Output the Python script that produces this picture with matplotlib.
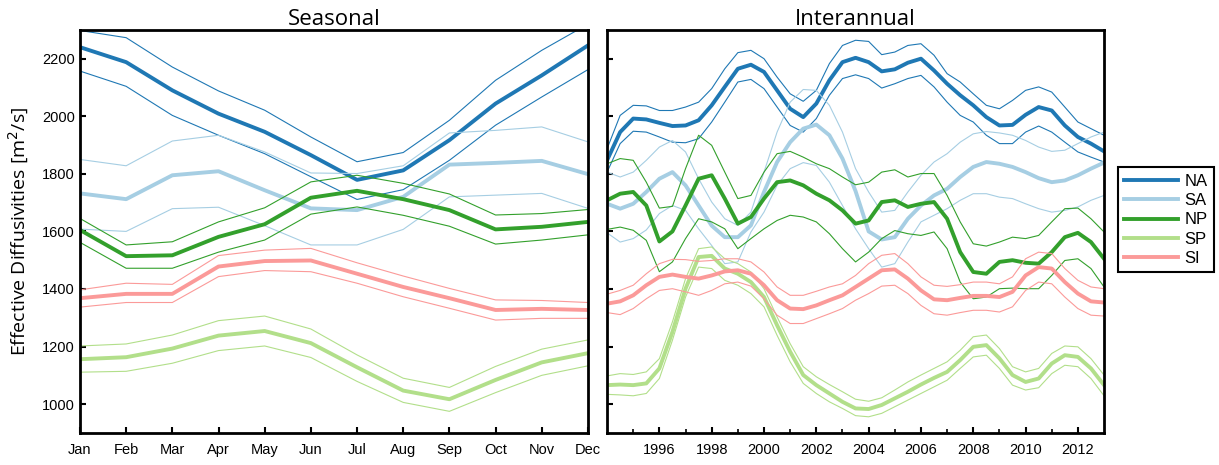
import numpy as np
import matplotlib
matplotlib.use("Agg")
import matplotlib.pyplot as plt

# ---- seasonal cycle (monthly climatology) ----
months = ["Jan", "Feb", "Mar", "Apr", "May", "Jun", "Jul", "Aug", "Sep", "Oct", "Nov", "Dec"]

na_mon = [2240, 2188, 2090, 2009, 1946, 1865, 1779, 1812, 1917, 2044, 2142, 2246]
na_mon_hi = [2298, 2273, 2171, 2088, 2021, 1928, 1842, 1874, 1986, 2125, 2229, 2320]
na_mon_lo = [2157, 2104, 2003, 1934, 1870, 1790, 1711, 1745, 1847, 1969, 2067, 2162]

sa_mon = [1732, 1712, 1795, 1809, 1743, 1680, 1674, 1720, 1832, 1838, 1845, 1799]
sa_mon_hi = [1850, 1828, 1914, 1934, 1876, 1803, 1801, 1828, 1942, 1951, 1963, 1911]
sa_mon_lo = [1608, 1600, 1679, 1684, 1620, 1553, 1553, 1607, 1720, 1726, 1732, 1680]

np_mon = [1605, 1514, 1517, 1581, 1625, 1717, 1741, 1712, 1674, 1607, 1616, 1633]
np_mon_hi = [1645, 1553, 1564, 1633, 1682, 1772, 1795, 1767, 1730, 1657, 1662, 1676]
np_mon_lo = [1562, 1472, 1472, 1528, 1570, 1660, 1685, 1656, 1618, 1556, 1570, 1588]

sp_mon = [1156, 1163, 1193, 1238, 1254, 1212, 1128, 1047, 1017, 1084, 1145, 1177]
sp_mon_hi = [1202, 1209, 1240, 1290, 1306, 1261, 1171, 1090, 1058, 1131, 1191, 1223]
sp_mon_lo = [1111, 1114, 1142, 1186, 1202, 1162, 1079, 1006, 975, 1040, 1100, 1133]

si_mon = [1368, 1383, 1383, 1478, 1497, 1499, 1453, 1407, 1368, 1327, 1331, 1327]
si_mon_hi = [1397, 1420, 1416, 1516, 1535, 1541, 1491, 1445, 1402, 1362, 1360, 1353]
si_mon_lo = [1337, 1353, 1353, 1443, 1464, 1460, 1420, 1373, 1333, 1292, 1298, 1298]

# ---- interannual (half-yearly, 1994.0 - 2013.0) ----
years = np.arange(1994.0, 2013.01, 0.5)

na_yr = [1847, 1945, 1992, 1989, 1977, 1966, 1968, 1986, 2038, 2102, 2165, 2179, 2154,
         2090, 2026, 1997, 2044, 2125, 2188, 2203, 2188, 2156, 2163, 2186, 2200, 2159,
         2113, 2073, 2038, 1997, 1968, 1970, 2005, 2032, 2020, 1968, 1928, 1905, 1878]
na_yr_hi = [1887, 2003, 2038, 2036, 2020, 2020, 2032, 2049, 2096, 2165, 2221, 2229, 2200,
            2136, 2078, 2052, 2090, 2183, 2246, 2264, 2260, 2214, 2223, 2246, 2252, 2212,
            2148, 2119, 2078, 2038, 2026, 2055, 2090, 2102, 2084, 2032, 1980, 1957, 1934]
na_yr_lo = [1806, 1905, 1948, 1945, 1928, 1910, 1908, 1922, 1980, 2049, 2119, 2128, 2096,
            2032, 1968, 1945, 1992, 2073, 2131, 2144, 2131, 2098, 2113, 2131, 2142, 2102,
            2049, 2003, 1980, 1934, 1905, 1905, 1945, 1966, 1945, 1910, 1876, 1858, 1841]

sa_yr = [1696, 1679, 1696, 1737, 1783, 1806, 1760, 1690, 1620, 1580, 1580, 1621, 1737,
         1841, 1910, 1957, 1971, 1934, 1853, 1740, 1600, 1572, 1580, 1644, 1690, 1725,
         1748, 1789, 1824, 1841, 1835, 1824, 1806, 1785, 1771, 1777, 1795, 1818, 1839]
sa_yr_hi = [1806, 1789, 1806, 1847, 1893, 1916, 1876, 1783, 1702, 1644, 1621, 1667, 1806,
            1945, 2049, 2093, 2090, 2038, 1945, 1818, 1737, 1667, 1673, 1737, 1795, 1841,
            1870, 1910, 1939, 1947, 1942, 1934, 1916, 1893, 1878, 1882, 1905, 1928, 1945]
sa_yr_lo = [1595, 1563, 1575, 1605, 1662, 1690, 1673, 1609, 1551, 1488, 1494, 1598, 1667,
            1760, 1818, 1839, 1829, 1771, 1690, 1609, 1540, 1476, 1488, 1563, 1633, 1656,
            1679, 1708, 1731, 1731, 1719, 1714, 1696, 1679, 1667, 1673, 1685, 1708, 1725]

np_yr = [1708, 1731, 1737, 1690, 1565, 1600, 1690, 1783, 1795, 1714, 1627, 1650, 1714,
         1771, 1777, 1760, 1731, 1708, 1673, 1627, 1638, 1702, 1708, 1685, 1696, 1702,
         1644, 1528, 1459, 1453, 1494, 1500, 1491, 1488, 1528, 1580, 1595, 1563, 1505]
np_yr_hi = [1835, 1853, 1847, 1771, 1681, 1687, 1818, 1934, 1899, 1806, 1714, 1725, 1806,
            1870, 1878, 1858, 1835, 1818, 1789, 1762, 1771, 1806, 1814, 1789, 1801, 1801,
            1725, 1633, 1557, 1549, 1563, 1580, 1575, 1586, 1633, 1679, 1681, 1644, 1598]
np_yr_lo = [1607, 1615, 1604, 1569, 1460, 1494, 1575, 1644, 1633, 1609, 1540, 1575, 1609,
            1638, 1656, 1650, 1633, 1592, 1540, 1494, 1528, 1575, 1603, 1592, 1586, 1598,
            1540, 1424, 1366, 1372, 1401, 1403, 1401, 1401, 1447, 1499, 1505, 1471, 1407]

sp_yr = [1066, 1068, 1066, 1072, 1124, 1251, 1401, 1511, 1515, 1471, 1453, 1424, 1372,
         1274, 1182, 1101, 1066, 1037, 1008, 985, 983, 997, 1020, 1043, 1068, 1091,
         1112, 1153, 1199, 1205, 1159, 1101, 1077, 1089, 1141, 1170, 1164, 1124, 1066]
sp_yr_hi = [1098, 1106, 1103, 1112, 1158, 1286, 1436, 1540, 1546, 1505, 1488, 1459, 1401,
            1303, 1210, 1130, 1095, 1068, 1043, 1017, 1010, 1022, 1049, 1077, 1101, 1124,
            1147, 1187, 1234, 1240, 1193, 1130, 1112, 1124, 1176, 1202, 1199, 1158, 1101]
sp_yr_lo = [1034, 1032, 1029, 1037, 1089, 1222, 1372, 1476, 1471, 1430, 1413, 1384, 1338,
            1239, 1147, 1072, 1037, 1008, 985, 960, 956, 968, 991, 1014, 1037, 1060,
            1083, 1124, 1164, 1170, 1124, 1066, 1049, 1057, 1106, 1135, 1130, 1089, 1029]

si_yr = [1349, 1357, 1378, 1413, 1442, 1450, 1442, 1436, 1447, 1461, 1465, 1453, 1413,
         1361, 1332, 1330, 1343, 1361, 1378, 1407, 1436, 1465, 1468, 1436, 1395, 1364,
         1361, 1369, 1376, 1376, 1372, 1390, 1447, 1476, 1471, 1424, 1384, 1357, 1353]
si_yr_hi = [1382, 1395, 1413, 1453, 1488, 1503, 1502, 1496, 1499, 1505, 1505, 1494, 1459,
            1407, 1378, 1378, 1392, 1407, 1418, 1447, 1488, 1517, 1523, 1488, 1442, 1413,
            1409, 1415, 1424, 1424, 1418, 1442, 1505, 1528, 1523, 1471, 1430, 1407, 1401]
si_yr_lo = [1318, 1311, 1332, 1366, 1395, 1401, 1390, 1378, 1395, 1418, 1424, 1410, 1366,
            1309, 1280, 1280, 1297, 1314, 1332, 1361, 1384, 1410, 1413, 1384, 1343, 1314,
            1309, 1318, 1326, 1326, 1320, 1338, 1395, 1424, 1418, 1372, 1332, 1309, 1306]

names = ["NA", "SA", "NP", "SP", "SI"]
colors = ["#1f78b4", "#a6cee3", "#33a02c", "#b2df8a", "#fb9a99"]

seasonal = [(na_mon, na_mon_hi, na_mon_lo), (sa_mon, sa_mon_hi, sa_mon_lo),
            (np_mon, np_mon_hi, np_mon_lo), (sp_mon, sp_mon_hi, sp_mon_lo),
            (si_mon, si_mon_hi, si_mon_lo)]
interannual = [(na_yr, na_yr_hi, na_yr_lo), (sa_yr, sa_yr_hi, sa_yr_lo),
               (np_yr, np_yr_hi, np_yr_lo), (sp_yr, sp_yr_hi, sp_yr_lo),
               (si_yr, si_yr_hi, si_yr_lo)]

plt.rcParams["font.family"] = ["Liberation Sans", "DejaVu Sans"]

fig = plt.figure(figsize=(12.19, 4.65), dpi=100)
ax1 = fig.add_axes([0.0656, 0.069, 0.4167, 0.8667])
ax2 = fig.add_axes([0.498, 0.069, 0.4077, 0.8667])

x_mon = np.arange(1, 13)
for name, col, (mid, hi, lo) in zip(names, colors, seasonal):
    ax1.plot(x_mon, hi, color=col, lw=0.8)
    ax1.plot(x_mon, lo, color=col, lw=0.8)
    ax1.plot(x_mon, mid, color=col, lw=2.8, label=name)

for name, col, (mid, hi, lo) in zip(names, colors, interannual):
    ax2.plot(years, hi, color=col, lw=0.8)
    ax2.plot(years, lo, color=col, lw=0.8)
    ax2.plot(years, mid, color=col, lw=2.8)

for ax in (ax1, ax2):
    ax.set_ylim(900, 2300)
    ax.set_yticks([1000, 1200, 1400, 1600, 1800, 2000, 2200])
    ax.tick_params(direction="in", length=4, width=1.5, labelsize=10.5,
                   top=False, right=False)
    ax.tick_params(axis="x", pad=7)
    for sp in ax.spines.values():
        sp.set_linewidth(2)

ax1.set_xlim(1, 12)
ax1.set_xticks(x_mon)
ax1.set_xticklabels(months)
ax1.set_ylabel("Effective Diffusivities [m$^2$/s]", fontsize=14,
               family=["Open Sans", "DejaVu Sans"], labelpad=8)
ax1.set_title("Seasonal", fontsize=16, family=["Open Sans", "DejaVu Sans"], pad=3)

ax2.set_xlim(1994, 2013)
ax2.set_xticks(np.arange(1996, 2013, 2))
ax2.set_xticks(np.arange(1995, 2013, 2), minor=True)
ax2.tick_params(which="minor", direction="in", length=3, width=1.2)
ax2.set_yticklabels([])
ax2.set_title("Interannual", fontsize=16, family=["Open Sans", "DejaVu Sans"], pad=3)

leg = fig.legend(*ax1.get_legend_handles_labels(), loc="upper left",
                 bbox_to_anchor=(0.917, 0.64), borderaxespad=0, fontsize=12,
                 handlelength=3.2, fancybox=False, framealpha=1, edgecolor="black",
                 borderpad=0.4, labelspacing=0.25, handletextpad=0.4)
leg.get_frame().set_linewidth(1.5)

fig.savefig("out.png", dpi=100)
